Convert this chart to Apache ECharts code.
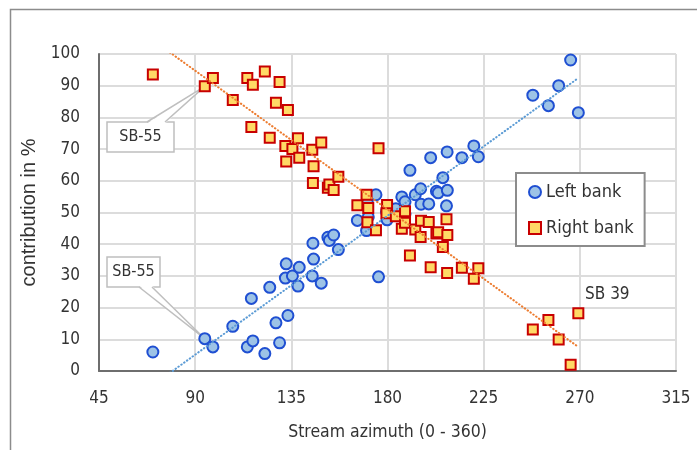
<!DOCTYPE html>
<html>
<head>
<meta charset="utf-8">
<script src="https://cdn.jsdelivr.net/npm/echarts@6/dist/echarts.min.js"></script>
<style>html,body{margin:0;padding:0;background:#fff}#main{width:697px;height:450px}</style>
</head>
<body>
<div id="main"></div>
<script>
// stream azimuth of each sub-basin (deg), same order in both banks
var azimuth = [70.2, 94.5, 98.3, 107.6, 114.4, 117.0, 116.3, 122.6, 124.9, 127.8,
  129.5, 133.4, 132.6, 132.2, 135.5, 138.7, 138.1, 144.8, 145.4, 145.1,
  149.0, 152.1, 152.8, 154.8, 157.0, 165.9, 170.2, 170.6, 171.0, 174.6,
  175.8, 179.8, 179.5, 183.9, 186.7, 188.2, 188.2, 190.5, 193.0, 195.5,
  195.7, 199.3, 200.2, 202.9, 203.7, 205.9, 207.9, 207.6, 208.0, 214.8,
  220.4, 222.5, 248.0, 255.3, 260.1, 265.7, 269.3];
var leftBank = [6.0, 10.2, 7.6, 14.1, 7.6, 9.5, 22.9, 5.5, 26.4, 15.2,
  8.9, 17.5, 33.8, 29.3, 30.0, 32.7, 26.8, 30.0, 35.3, 40.3,
  27.7, 42.2, 41.2, 42.9, 38.3, 47.5, 44.3, 53.1, 48.6, 55.6,
  29.7, 47.7, 50.2, 51.2, 54.9, 53.4, 49.6, 63.3, 55.6, 57.5,
  52.6, 52.7, 67.3, 56.7, 56.2, 61.0, 69.1, 52.1, 57.0, 67.3,
  71.0, 67.6, 87.0, 83.7, 90.0, 98.1, 81.5];
var rightBank = [93.5, 89.8, 92.4, 85.5, 92.4, 90.3, 77.0, 94.5, 73.6, 84.6,
  91.2, 82.3, 66.1, 71.0, 70.0, 67.3, 73.4, 69.8, 64.6, 59.3,
  72.1, 57.8, 58.8, 57.1, 61.3, 52.3, 55.6, 46.9, 51.4, 44.4,
  70.3, 52.4, 49.8, 48.8, 44.9, 46.8, 50.4, 36.4, 44.6, 42.3,
  47.4, 47.0, 32.7, 43.4, 43.8, 39.1, 30.9, 47.9, 42.9, 32.6,
  29.1, 32.4, 13.1, 16.1, 9.9, 2.0, 18.2];
var xTicks = [45, 90, 135, 180, 225, 270, 315];
var yTicks = [0, 10, 20, 30, 40, 50, 60, 70, 80, 90, 100];

var FONT = "'Liberation Sans Narrow', 'DejaVu Sans Condensed', sans-serif";
var TXT = '#333';

function pairs(xs, ys) {
  return xs.map(function (x, i) { return [x, ys[i]]; });
}
// linear least-squares trend, drawn over the data range
function trend(xs, ys) {
  var n = xs.length, sx = 0, sy = 0, sxx = 0, sxy = 0;
  for (var i = 0; i < n; i++) {
    sx += xs[i]; sy += ys[i]; sxx += xs[i] * xs[i]; sxy += xs[i] * ys[i];
  }
  var b = (n * sxy - sx * sy) / (n * sxx - sx * sx);
  var a = (sy - b * sx) / n;
  var lo = Math.min.apply(null, xs), hi = Math.max.apply(null, xs);
  return [[lo, a + b * lo], [hi, a + b * hi]];
}

var rightData = pairs(azimuth, rightBank);
// SB 39 label on the last right bank point
rightData[rightData.length - 1] = {
  value: rightData[rightData.length - 1],
  label: { show: true, formatter: 'SB 39', position: 'top', offset: [29, 1],
    fontFamily: FONT, fontSize: 17, color: TXT }
};

var myChart = echarts.init(document.getElementById('main'));
var option = {
  animation: false,
  backgroundColor: '#fff',
  grid: { left: 99, right: 21, top: 54, bottom: 79 },
  legend: {
    data: ['Left bank', 'Right bank'],
    orient: 'vertical', left: 516, top: 173,
    padding: [10, 11, 9, 12], itemGap: 18, itemWidth: 12, itemHeight: 12,
    borderColor: '#8c8c8c', borderWidth: 2, backgroundColor: '#fff',
    textStyle: { fontFamily: FONT, fontSize: 18, color: TXT }
  },
  xAxis: {
    type: 'value', min: xTicks[0], max: xTicks[xTicks.length - 1], interval: xTicks[1] - xTicks[0],
    name: 'Stream azimuth (0 - 360)', nameLocation: 'middle', nameGap: 52,
    nameTextStyle: { fontFamily: FONT, fontSize: 17.5, color: TXT },
    axisLine: { lineStyle: { color: '#6e6e6e', width: 2 } },
    axisTick: { show: false },
    axisLabel: { margin: 19, fontFamily: FONT, fontSize: 17, color: TXT },
    splitLine: { lineStyle: { color: '#dcdcdc', width: 2 } }
  },
  yAxis: {
    type: 'value', min: yTicks[0], max: yTicks[yTicks.length - 1], interval: yTicks[1] - yTicks[0],
    name: 'contribution in %', nameLocation: 'middle', nameGap: 40,
    nameTextStyle: { fontFamily: "'Liberation Sans', sans-serif", fontSize: 20, color: TXT },
    axisLine: { show: true, lineStyle: { color: '#6e6e6e', width: 2 } },
    axisTick: { show: false },
    axisLabel: { margin: 19, fontFamily: FONT, fontSize: 17, color: TXT },
    splitLine: { lineStyle: { color: '#dcdcdc', width: 2 } }
  },
  series: [
    {
      name: 'Left bank', type: 'scatter', symbol: 'circle', symbolSize: 11,
      itemStyle: { color: '#9DC3E6', borderColor: '#1F4FD2', borderWidth: 2, opacity: 1 },
      data: pairs(azimuth, leftBank)
    },
    {
      name: 'Right bank', type: 'scatter', symbol: 'rect', symbolSize: 10,
      itemStyle: { color: '#FFD966', borderColor: '#C80000', borderWidth: 2, opacity: 1 },
      data: rightData
    },
    {
      name: 'Left trend', type: 'line', symbol: 'none', silent: true, z: 3, clip: true,
      lineStyle: { color: '#5B9BD5', width: 2, type: [0.5, 3], cap: 'round' },
      data: trend(azimuth, leftBank)
    },
    {
      name: 'Right trend', type: 'line', symbol: 'none', silent: true, z: 3, clip: true,
      lineStyle: { color: '#ED7D31', width: 2, type: [0.5, 3], cap: 'round' },
      data: trend(azimuth, rightBank)
    }
  ]
};
myChart.setOption(option);

// callout boxes pointing at SB-55 in both banks
function callout(tip, box, baseX, fromTop) {
  var by = fromTop ? box.y : box.y + box.h;
  var inset = fromTop ? 1.5 : -1.5;
  return [
    { type: 'rect', z: 1, shape: box, style: { fill: '#fff', stroke: '#bfbfbf', lineWidth: 1.5 } },
    { type: 'polygon', z: 1, shape: { points: [[baseX[0], by + inset], tip, [baseX[1], by + inset]] },
      style: { fill: '#fff', stroke: null } },
    { type: 'polyline', z: 1, shape: { points: [[baseX[0], by], tip, [baseX[1], by]] },
      style: { fill: null, stroke: '#bfbfbf', lineWidth: 1.5 } },
    { type: 'text', z: 1, x: box.x + box.w / 2, y: box.y + box.h / 2,
      style: { text: 'SB-55', fontFamily: FONT, fontSize: 16, fill: TXT, align: 'center', verticalAlign: 'middle' } }
  ];
}
var tipRight = myChart.convertToPixel({ gridIndex: 0 }, [azimuth[1], rightBank[1]]);
var tipLeft = myChart.convertToPixel({ gridIndex: 0 }, [azimuth[1], leftBank[1]]);
var graphics = [
  { type: 'rect', z: 0, shape: { x: 10.5, y: 9.5, width: 800, height: 600 },
    style: { fill: null, stroke: '#8c8c8c', lineWidth: 1.5 } }
];
graphics = graphics.concat(
  callout(tipRight, { x: 107, y: 122, width: 67, height: 30, w: 67, h: 30 }, [147, 165], true),
  callout(tipLeft, { x: 107, y: 257, width: 53, height: 30, w: 53, h: 30 }, [139, 152], false)
);
myChart.setOption({ graphic: graphics });
</script>
</body>
</html>
